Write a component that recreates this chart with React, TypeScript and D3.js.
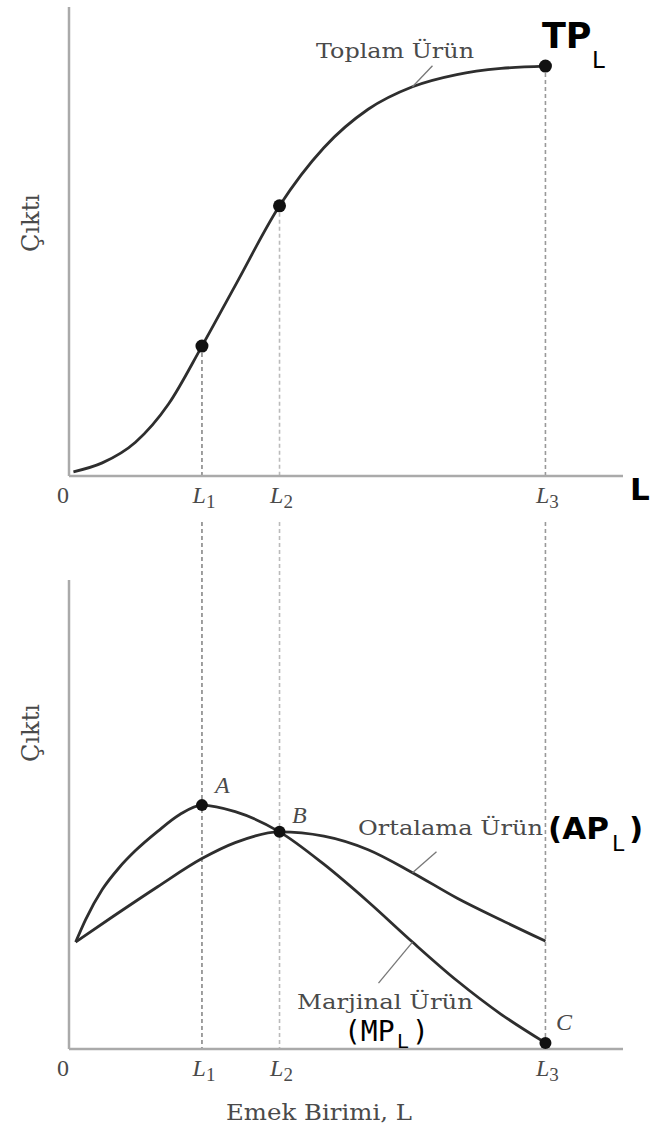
import React from "react";
import * as d3 from "d3";

// Labour input marks on the horizontal axis
const laborMarks = [12, 19, 43];
const laborMarkSubs = ["1", "2", "3"];

// Total product curve (labour units, output units)
const tpLabor = [0.4, 3, 6, 9, 12, 15, 19, 23, 27, 31, 35, 39, 43];
const tpOutput = [0.9, 2.8, 7.2, 15.4, 27.7, 40.6, 57.6, 70.0, 78.2, 83.0, 85.6, 86.9, 87.4];

// Average product curve
const apLabor = [0.6, 4, 8, 12, 15, 19, 23, 27, 31, 35, 39, 43];
const apOutput = [22.8, 28.3, 34.6, 40.6, 44.0, 46.3, 45.4, 42.5, 37.6, 32.2, 27.5, 23.0];

// Marginal product curve
const mpLabor = [0.6, 1.5, 3, 4.5, 6, 8, 10, 12, 15, 19, 23, 27, 31, 35, 39, 43];
const mpOutput = [22.8, 27.6, 34.0, 38.6, 42.3, 46.4, 50.0, 52.0, 50.6, 46.3, 39.4, 31.4, 22.8, 14.6, 7.4, 1.3];

const W = 653;
const H = 1136;
const X0 = 69;
const X1 = 623;

const x = d3.scaleLinear().domain([0, 50]).range([X0, X1]);
const yTop = d3.scaleLinear().domain([0, 100]).range([476, 7]);
const yBot = d3.scaleLinear().domain([0, 100]).range([1049, 580]);

const zip = (a: number[], b: number[]) => a.map((v, i) => [v, b[i]] as [number, number]);
const valueAt = (xs: number[], ys: number[], v: number) => ys[xs.indexOf(v)];

const GRAY_TEXT = "#4a4a4a";
const CURVE = "#2e2e2e";
const AXIS = "#aaa";
const DASH_COLORS = ["#888", "#bbb", "#999"];

export default function App() {
  const lineTop = d3
    .line<[number, number]>()
    .x((d) => x(d[0]))
    .y((d) => yTop(d[1]))
    .curve(d3.curveMonotoneX);
  const lineBot = d3
    .line<[number, number]>()
    .x((d) => x(d[0]))
    .y((d) => yBot(d[1]))
    .curve(d3.curveMonotoneX);

  const tpPath = lineTop(zip(tpLabor, tpOutput)) || "";
  const apPath = lineBot(zip(apLabor, apOutput)) || "";
  const mpPath = lineBot(zip(mpLabor, mpOutput)) || "";

  const tpDots = laborMarks.map((l) => [l, valueAt(tpLabor, tpOutput, l)] as [number, number]);
  const pointA: [number, number] = [12, valueAt(mpLabor, mpOutput, 12)];
  const pointB: [number, number] = [19, valueAt(apLabor, apOutput, 19)];
  const pointC: [number, number] = [43, valueAt(mpLabor, mpOutput, 43)];

  // leader anchors on the curves
  const tpAnchor: [number, number] = [31, valueAt(tpLabor, tpOutput, 31)];
  const apAnchor: [number, number] = [31, valueAt(apLabor, apOutput, 31)];
  const mpAnchor: [number, number] = [31, valueAt(mpLabor, mpOutput, 31)];

  const serif = "'Liberation Serif', 'Times New Roman', serif";
  const slab = "'DejaVu Serif', serif";
  const sans = "'DejaVu Sans', sans-serif";
  const mono = "'DejaVu Sans Mono', monospace";

  const tickLabels = (baseline: number) => (
    <g fill={GRAY_TEXT} fontFamily={serif} fontSize={24}>
      <text x={x(0) - 6} y={baseline} textAnchor="middle">0</text>
      {laborMarks.map((l, i) => (
        <text key={i} x={x(l) + 2} y={baseline} textAnchor="middle" fontStyle="italic">
          L<tspan dy={5} fontSize={19} fontStyle="normal">{laborMarkSubs[i]}</tspan>
        </text>
      ))}
    </g>
  );

  return (
    <svg
      width={W}
      height={H}
      viewBox={`0 0 ${W} ${H}`}
      style={{ position: "absolute", left: 0, top: 0, background: "#fff" }}
    >
      <rect x={0} y={0} width={W} height={H} fill="#fff" />

      {/* dashed guides from the marked labour levels */}
      {laborMarks.map((l, i) => (
        <g key={i} stroke={DASH_COLORS[i]} strokeWidth={1.6} strokeDasharray="4,3">
          <line x1={x(l)} x2={x(l)} y1={yTop(tpDots[i][1])} y2={yTop(0)} />
          <line x1={x(l)} x2={x(l)} y1={522} y2={i === 2 ? yBot(pointC[1]) : yBot(0)} />
        </g>
      ))}

      {/* top panel axes */}
      <line x1={X0} x2={X0} y1={7} y2={yTop(0)} stroke={AXIS} strokeWidth={2.5} />
      <line x1={X0} x2={X1} y1={yTop(0)} y2={yTop(0)} stroke={AXIS} strokeWidth={2.5} />
      <text x={630} y={500} fontFamily={sans} fontWeight="bold" fontSize={31} fill="#000">L</text>
      {tickLabels(503)}
      <text
        transform="translate(39,223) rotate(-90)"
        textAnchor="middle"
        fontFamily={slab}
        fontSize={24}
        fill={GRAY_TEXT}
      >
        Çıktı
      </text>

      {/* total product */}
      <path d={tpPath} fill="none" stroke={CURVE} strokeWidth={2.8} />
      {tpDots.map((d, i) => (
        <circle key={i} cx={x(d[0])} cy={yTop(d[1])} r={6.5} fill="#111" />
      ))}
      <line
        x1={x(tpAnchor[0])}
        y1={yTop(tpAnchor[1])}
        x2={x(tpAnchor[0]) + 20}
        y2={yTop(tpAnchor[1]) - 21}
        stroke="#777"
        strokeWidth={1.3}
      />
      <text x={316} y={58} fontFamily={slab} fontSize={21} fill={GRAY_TEXT} textLength={158} lengthAdjust="spacingAndGlyphs">
        Toplam Ürün
      </text>
      <text x={542} y={48} fontFamily={sans} fontWeight="bold" fontSize={35} fill="#000">TP</text>
      <text x={592} y={68} fontFamily={sans} fontSize={23} fill="#000">L</text>

      {/* bottom panel axes */}
      <line x1={X0} x2={X0} y1={580} y2={yBot(0)} stroke={AXIS} strokeWidth={2.5} />
      <line x1={X0} x2={X1} y1={yBot(0)} y2={yBot(0)} stroke={AXIS} strokeWidth={2.5} />
      {tickLabels(1076)}
      <text
        transform="translate(39,733) rotate(-90)"
        textAnchor="middle"
        fontFamily={slab}
        fontSize={24}
        fill={GRAY_TEXT}
      >
        Çıktı
      </text>
      <text x={226} y={1120} fontFamily={slab} fontSize={23} fill={GRAY_TEXT} textLength={186} lengthAdjust="spacingAndGlyphs">
        Emek Birimi, L
      </text>

      {/* average and marginal product */}
      <path d={apPath} fill="none" stroke={CURVE} strokeWidth={2.8} />
      <path d={mpPath} fill="none" stroke={CURVE} strokeWidth={2.8} />
      {[pointA, pointB, pointC].map((d, i) => (
        <circle key={i} cx={x(d[0])} cy={yBot(d[1])} r={6} fill="#111" />
      ))}
      <g fontFamily={serif} fontStyle="italic" fontSize={24} fill={GRAY_TEXT}>
        <text x={215} y={793}>A</text>
        <text x={292} y={823}>B</text>
        <text x={556} y={1030}>C</text>
      </g>

      <line
        x1={x(apAnchor[0])}
        y1={yBot(apAnchor[1])}
        x2={x(apAnchor[0]) + 24}
        y2={yBot(apAnchor[1]) - 21}
        stroke="#777"
        strokeWidth={1.3}
      />
      <text x={358} y={835} fontFamily={slab} fontSize={21} fill={GRAY_TEXT} textLength={185} lengthAdjust="spacingAndGlyphs">
        Ortalama Ürün
      </text>
      <text x={548} y={839} fontFamily={sans} fontWeight="bold" fontSize={31} fill="#000">(AP</text>
      <text x={612} y={851} fontFamily={sans} fontSize={22} fill="#000">L</text>
      <text x={629} y={839} fontFamily={sans} fontWeight="bold" fontSize={31} fill="#000">)</text>

      <line
        x1={x(mpAnchor[0])}
        y1={yBot(mpAnchor[1])}
        x2={x(mpAnchor[0]) - 34}
        y2={yBot(mpAnchor[1]) + 41}
        stroke="#777"
        strokeWidth={1.3}
      />
      <text x={297} y={1009} fontFamily={slab} fontSize={21} fill={GRAY_TEXT} textLength={176} lengthAdjust="spacingAndGlyphs">
        Marjinal Ürün
      </text>
      <text x={344} y={1041} fontFamily={mono} fontSize={28} fill="#000">(MP</text>
      <text x={397} y={1048} fontFamily={sans} fontSize={20} fill="#000">L</text>
      <text x={412} y={1041} fontFamily={mono} fontSize={28} fill="#000">)</text>
    </svg>
  );
}
